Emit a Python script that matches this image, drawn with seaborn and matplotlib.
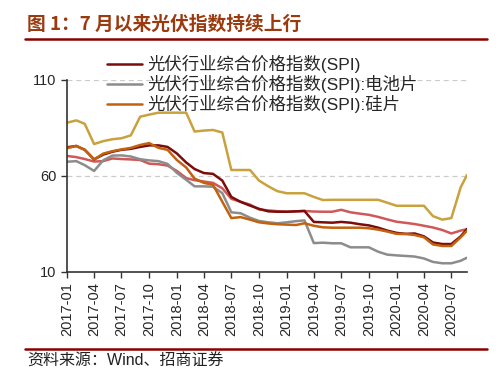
import pandas as pd
import numpy as np
import matplotlib
matplotlib.use("Agg")
import matplotlib.pyplot as plt
import seaborn as sns

# monthly points, last point is 2020-08-22
dates = list(pd.date_range("2017-01-01", "2020-08-01", freq="MS")) + [pd.Timestamp("2020-08-22")]

spi = [74.8, 75.5, 73.5, 68.5, 71.0, 72.5, 73.5, 74.0, 75.0, 75.8, 75.8, 75.0,
       71.6, 66.9, 63.5, 61.4, 61.0, 57.5, 49.0, 46.4, 44.5, 42.8, 41.5, 41.3,
       41.3, 41.5, 41.7, 36.0, 35.8, 35.6, 36.0, 35.6, 34.8, 34.2, 33.0, 31.5,
       30.3, 29.8, 30.0, 28.5, 25.3, 24.5, 24.5, 28.5, 32.3]
cell = [67.3, 67.6, 65.5, 62.5, 68.0, 70.5, 70.6, 70.0, 68.6, 68.0, 67.6, 66.2,
        61.5, 57.9, 54.5, 54.5, 54.3, 51.0, 41.0, 40.5, 38.2, 36.5, 35.8, 35.3,
        35.8, 36.4, 36.8, 25.0, 25.2, 24.9, 24.9, 22.8, 22.8, 22.8, 20.5, 19.0,
        18.6, 18.3, 18.0, 17.0, 15.2, 14.5, 14.5, 15.8, 17.4]
wafer = [74.3, 75.5, 73.5, 68.5, 71.5, 72.8, 73.7, 74.5, 76.0, 77.0, 74.5, 73.5,
         68.2, 64.3, 58.5, 56.3, 55.3, 46.5, 38.0, 38.5, 37.2, 35.8, 35.2, 34.8,
         34.6, 34.4, 35.3, 34.0, 33.2, 33.0, 33.0, 33.0, 33.0, 32.7, 32.0, 31.0,
         29.8, 29.7, 29.2, 28.0, 24.3, 23.5, 23.5, 28.0, 31.4]
gold = [87.6, 88.8, 87.0, 76.5, 78.0, 79.0, 79.5, 81.0, 90.7, 91.8, 92.8, 92.8,
        92.8, 92.8, 83.0, 83.5, 83.8, 82.5, 63.0, 63.0, 63.0, 57.5, 54.5, 52.0,
        50.9, 50.9, 50.9, 49.0, 47.4, 47.5, 47.5, 47.5, 47.5, 47.5, 47.5, 46.0,
        44.4, 44.4, 44.4, 44.4, 39.0, 37.2, 38.0, 54.0, 60.4]
red2 = [70.3, 69.7, 68.7, 67.4, 67.6, 69.0, 68.7, 68.5, 68.2, 66.3, 66.0, 65.3,
        62.5, 58.8, 57.7, 57.0, 56.3, 53.5, 48.0, 46.5, 45.0, 42.5, 42.0, 41.6,
        41.3, 41.5, 41.7, 41.4, 41.3, 41.3, 42.3, 41.0, 40.3, 39.7, 38.6, 37.3,
        36.1, 35.5, 34.9, 34.0, 33.1, 31.8, 30.0, 31.5, 32.2]

labels = ["光伏行业综合价格指数(SPI)", "光伏行业综合价格指数(SPI):电池片",
          "光伏行业综合价格指数(SPI):硅片", "gold", "red2"]
colors = ["#7a0c0c", "#8c8c8c", "#c2620e", "#c9a23e", "#d05858"]

df = pd.DataFrame({"date": dates, labels[0]: spi, labels[1]: cell,
                   labels[2]: wafer, labels[3]: gold, labels[4]: red2})

sns.set_style("white")
plt.rcParams["font.family"] = ["Liberation Sans", "Noto Sans CJK SC"]

fig = plt.figure(figsize=(5, 3.72), dpi=100)
ax = fig.add_axes([0.134, 0.269, 0.8, 0.517])

order = [3, 4, 1, 0, 2]
for i in order:
    sns.lineplot(data=df, x="date", y=labels[i], color=colors[i], lw=1.8,
                 label=labels[i], ax=ax)

ax.set_xlim(dates[0], dates[-1])
ax.set_ylim(10, 110)
ax.set_yticks([10, 60, 110])
ticks = pd.date_range("2017-01-01", "2020-07-01", freq="3MS")
ax.set_xticks(ticks)
ax.set_xticklabels([t.strftime("%Y-%m") for t in ticks], rotation=90, fontsize=10.5)
ax.tick_params(axis="y", labelsize=10.5)
ax.tick_params(axis="both", direction="out", length=4, width=1, color="#333333",
               left=True, bottom=True)
ax.set_xlabel("")
ax.set_ylabel("")
for y in [60, 110]:
    ax.axhline(y, color="#cccccc", lw=0.9, ls=(0, (4, 3)), zorder=0)
for s in ["top", "right"]:
    ax.spines[s].set_visible(False)
for s in ["left", "bottom"]:
    ax.spines[s].set_color("#333333")
    ax.spines[s].set_linewidth(1.2)

handles, labs = ax.get_legend_handles_labels()
pick = {l: h for h, l in zip(handles, labs)}
leg = fig.legend([pick[l] for l in labels[:3]], labels[:3], loc="upper left",
                 bbox_to_anchor=(0.19, 0.885), frameon=False, fontsize=12.5,
                 handlelength=2.0, handletextpad=0.3, labelspacing=0.1,
                 borderpad=0.2)
ax.get_legend().remove()

fig.text(0.054, 0.935, "图 1：7 月以来光伏指数持续上行", fontsize=13.5,
         fontweight="bold", color="#9a3a0e", va="center",
         family=["Noto Sans CJK SC"])
fig.add_artist(plt.Line2D([0.05, 0.974], [0.894, 0.894], color="#8b0000", lw=1.8))
fig.add_artist(plt.Line2D([0.05, 0.974], [0.062, 0.062], color="#8b0000", lw=1.8))
fig.text(0.054, 0.028, "资料来源：Wind、招商证券", fontsize=11.5, color="#222222",
         va="center")

fig.savefig("out.png", dpi=100)
